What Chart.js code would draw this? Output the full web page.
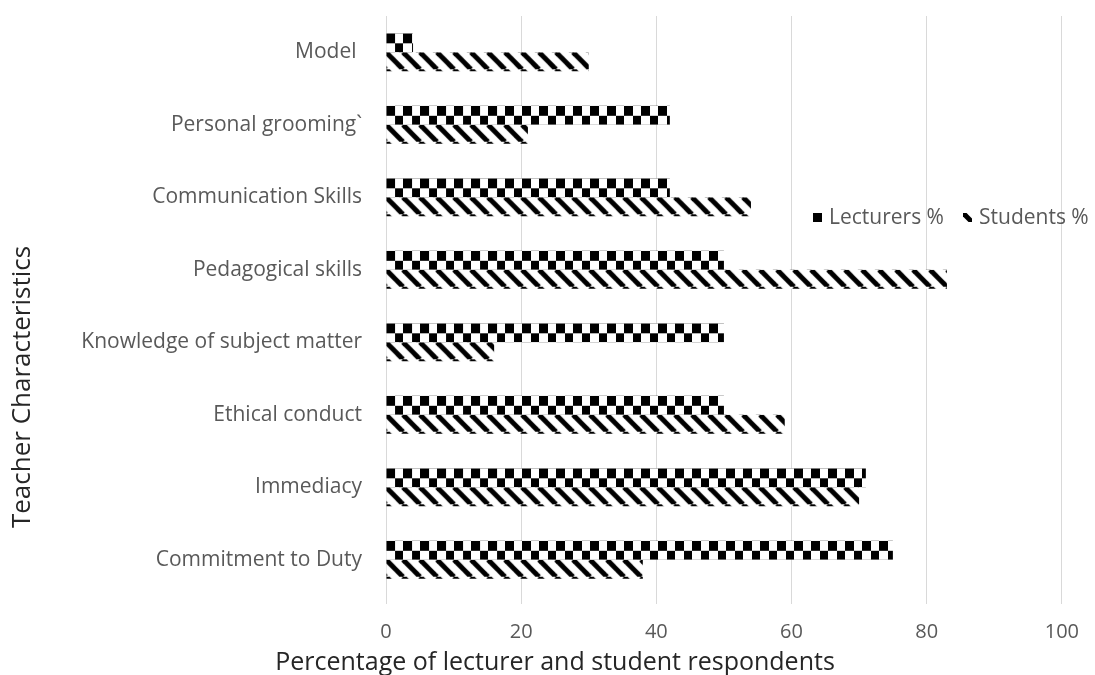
<!DOCTYPE html>
<html>
<head>
<meta charset="utf-8">
<title>Teacher Characteristics</title>
<script src="https://cdn.jsdelivr.net/npm/chart.js@4/dist/chart.umd.min.js"></script>
<style>
    html, body { margin: 0; padding: 0; background: #fff; }
    #wrap { width: 1095px; height: 675px; }
</style>
</head>
<body>
<div id="wrap"><canvas id="chart" width="1095" height="675"></canvas></div>
<script>
const categories = ["Model ", "Personal grooming`", "Communication Skills", "Pedagogical skills",
    "Knowledge of subject matter", "Ethical conduct", "Immediacy", "Commitment to Duty"]
const lecturers = [4, 42, 42, 50, 50, 50, 71, 75]
const students = [30, 21, 54, 83, 16, 59, 70, 38]
const seriesNames = ["Lecturers %", "Students %"]
const xTicks = [0, 20, 40, 60, 80, 100]
const xTitle = "Percentage of lecturer and student respondents"
const yTitle = "Teacher Characteristics"

const FONT = "'Open Sans', 'DejaVu Sans', sans-serif"
const GROUP = 0.523

// checkerboard fill, two rows per bar
function checker(){
    const c = document.createElement("canvas")
    c.width = 17
    c.height = 19
    const ctx = c.getContext("2d")
    ctx.fillStyle = "#fff"
    ctx.fillRect(0, 0, 17, 19)
    ctx.fillStyle = "#000"
    ctx.fillRect(0, 0, 9, 10)
    ctx.fillRect(9, 10, 8, 9)
    return c
}

// wide downward diagonal fill
function stripes(){
    const c = document.createElement("canvas")
    c.width = c.height = 17
    const ctx = c.getContext("2d")
    ctx.fillStyle = "#fff"
    ctx.fillRect(0, 0, 17, 17)
    ctx.strokeStyle = "#000"
    ctx.lineWidth = 5
    for(const x of [-17, 0, 17]){
        ctx.beginPath()
        ctx.moveTo(x, 0)
        ctx.lineTo(x + 17, 17)
        ctx.stroke()
    }
    return c
}

const cvs = document.querySelector("#chart")
const g = cvs.getContext("2d")
const tiles = [checker(), stripes()]

function patternAt(i, x, y){
    const p = g.createPattern(tiles[i], "repeat")
    p.setTransform(new DOMMatrix().translate(x, y))
    return p
}

// anchor each bar's pattern on its own top-left corner
function barFill(c){
    const ys = c.chart.scales.y
    const xs = c.chart.scales.x
    if(!ys || !xs || c.index === undefined) return patternAt(c.datasetIndex || 0, 0, 0)
    const pitch = ys.getPixelForValue(1) - ys.getPixelForValue(0)
    const group = pitch * GROUP
    const top = ys.getPixelForValue(c.index) - group / 2 + c.datasetIndex * group / 2
    return patternAt(c.datasetIndex, xs.getPixelForValue(0), top)
}

// axis titles + legend drawn by hand so they sit where the original has them
const extras = {
    id: "extras",
    afterDraw(chart){
        const ctx = chart.ctx
        ctx.save()
        ctx.translate(23, 387)
        ctx.rotate(-Math.PI / 2)
        ctx.font = "26px " + FONT
        ctx.fillStyle = "#262626"
        ctx.textAlign = "center"
        ctx.textBaseline = "middle"
        ctx.fillText(yTitle, 0, 0)
        ctx.restore()

        ctx.save()
        ctx.font = "25px " + FONT
        ctx.fillStyle = "#262626"
        ctx.textAlign = "center"
        ctx.textBaseline = "middle"
        ctx.fillText(xTitle, 555, 663)
        ctx.restore()

        ctx.save()
        ctx.font = "21px " + FONT
        ctx.textBaseline = "middle"
        const spots = [813, 963]
        chart.data.datasets.forEach((ds, i)=>{
            ctx.fillStyle = patternAt(i, spots[i], 213)
            ctx.fillRect(spots[i], 213, 9, 9)
            ctx.fillStyle = "#595959"
            ctx.fillText(ds.label, spots[i] + 16, 218)
        })
        ctx.restore()
    }
}

new Chart(cvs, {
    type: "bar",
    data: {
        labels: categories,
        datasets: [
            { label: seriesNames[0], data: lecturers, backgroundColor: barFill },
            { label: seriesNames[1], data: students, backgroundColor: barFill }
        ]
    },
    options: {
        indexAxis: "y",
        responsive: false,
        animation: false,
        devicePixelRatio: 1,
        categoryPercentage: GROUP,
        barPercentage: 1,
        layout: { padding: { top: 16, right: 27, left: 0, bottom: 25 } },
        plugins: {
            legend: { display: false },
            tooltip: { enabled: false },
            title: { display: false }
        },
        scales: {
            x: {
                min: 0,
                max: 100,
                afterBuildTicks: scale => { scale.ticks = xTicks.map(v => ({ value: v })) },
                afterFit: scale => { scale.height = 54 },
                border: { display: false },
                grid: { color: "#d9d9d9", tickLength: 8 },
                ticks: { color: "#595959", padding: 16, font: { family: FONT, size: 20 } }
            },
            y: {
                afterFit: scale => {
                    scale.width = 386
                    scale.paddingTop = 0
                    scale.paddingBottom = 0
                },
                border: { display: false },
                grid: { display: false },
                ticks: { color: "#595959", padding: 16, font: { family: FONT, size: 21 } }
            }
        }
    },
    plugins: [extras]
})
</script>
</body>
</html>
